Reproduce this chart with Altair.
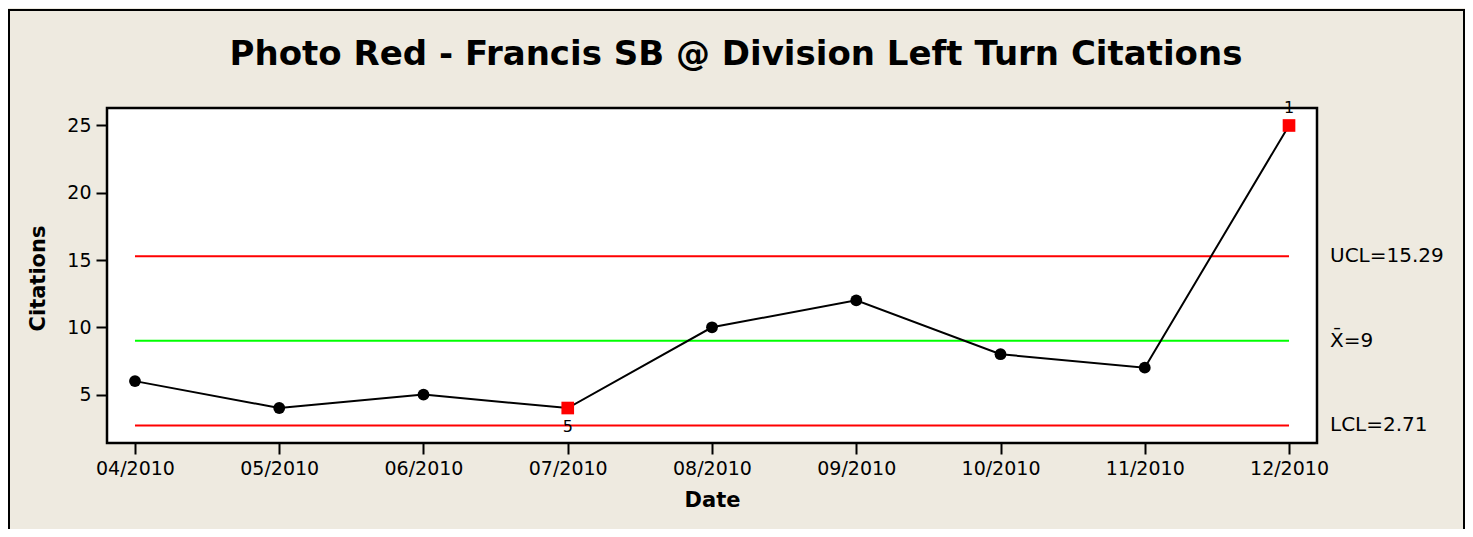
import altair as alt
import pandas as pd

dates = ["04/2010", "05/2010", "06/2010", "07/2010", "08/2010",
         "09/2010", "10/2010", "11/2010", "12/2010"]
citations = [6, 4, 5, 4, 10, 12, 8, 7, 25]
flag_labels = ["", "", "", "5", "", "", "", "", "1"]

ctrl_names = ["UCL", "Mean", "LCL"]
ctrl_values = [15.29, 9.0, 2.71]
ctrl_text = ["UCL=15.29", "X\u0304=9", "LCL=2.71"]
ctrl_colors = ["#FF0000", "#00FF00", "#FF0000"]

title_text = "Photo Red - Francis SB @ Division Left Turn Citations"

FONT = "DejaVu Sans"
BG = "#EEEAE0"
W, H = 1210, 335

df = pd.DataFrame({"date": dates, "citations": citations, "flag": flag_labels})
df["flagged"] = df["flag"] != ""
ctrl = pd.DataFrame({"name": ctrl_names, "value": ctrl_values,
                     "text": ctrl_text, "color": ctrl_colors,
                     "start": dates[0], "end": dates[-1]})

yscale = alt.Scale(domain=[1.4, 26.3], nice=False, zero=False)
xscale = alt.Scale(type="point", padding=0.194)

frame = alt.Chart(pd.DataFrame({"a": [0]})).mark_rect(
    fillOpacity=0, stroke="black", strokeWidth=2
).encode(x=alt.value(-98), x2=alt.value(1357), y=alt.value(-98), y2=alt.value(440))

title = alt.Chart(pd.DataFrame({"t": [title_text]})).mark_text(
    font=FONT, fontSize=34, fontWeight="bold", color="black",
    align="center", baseline="middle"
).encode(x=alt.value(629), y=alt.value(-53), text="t:N")

rules = alt.Chart(ctrl).mark_rule(strokeWidth=2).encode(
    x=alt.X("start:N", sort=dates, scale=xscale),
    x2="end:N",
    y=alt.Y("value:Q", scale=yscale),
    color=alt.Color("color:N", scale=None),
)

line = alt.Chart(df).mark_line(color="black", strokeWidth=2).encode(
    x=alt.X("date:N", sort=dates, scale=xscale,
            axis=alt.Axis(title="Date", labelAngle=0, labelAlign="center",
                          labelBaseline="top", titleY=57,
                          titleBaseline="middle")),
    y=alt.Y("citations:Q", scale=yscale,
            axis=alt.Axis(title="Citations", values=[5, 10, 15, 20, 25],
                          titleX=-69, titleY=170, titleAngle=-90,
                          titleAlign="center", titleBaseline="middle")),
)

dots = alt.Chart(df).transform_filter("!datum.flagged").mark_point(
    filled=True, shape="circle", size=140, color="black", opacity=1
).encode(x=alt.X("date:N", sort=dates), y=alt.Y("citations:Q", scale=yscale))

squares = alt.Chart(df).transform_filter("datum.flagged").mark_point(
    filled=True, shape="square", size=160, color="#FF0000", opacity=1
).encode(x=alt.X("date:N", sort=dates), y=alt.Y("citations:Q", scale=yscale))

flag5 = alt.Chart(df).transform_filter("datum.flag == '5'").mark_text(
    font=FONT, fontSize=16, color="black", dy=19, baseline="middle"
).encode(x=alt.X("date:N", sort=dates), y=alt.Y("citations:Q", scale=yscale), text="flag:N")

flag1 = alt.Chart(df).transform_filter("datum.flag == '1'").mark_text(
    font=FONT, fontSize=16, color="black", dy=-17, baseline="middle"
).encode(x=alt.X("date:N", sort=dates), y=alt.Y("citations:Q", scale=yscale), text="flag:N")

ctrl_lbl = alt.Chart(ctrl).mark_text(
    font=FONT, fontSize=20, color="black", align="left", baseline="middle"
).encode(x=alt.value(W + 13), y=alt.Y("value:Q", scale=yscale), text="text:N")

chart = alt.layer(frame, title, rules, line, dots, squares, flag5, flag1, ctrl_lbl).properties(
    width=W, height=H,
    autosize=alt.AutoSizeParams(type="none"),
    padding={"left": 99, "top": 100, "right": 148, "bottom": 86},
    background=BG,
).configure_view(
    fill="white", stroke="black", strokeWidth=2.5
).configure_axis(
    domain=False, grid=False, tickColor="black", tickWidth=2, tickSize=11,
    labelFont=FONT, labelFontSize=19, labelColor="black", labelPadding=5,
    titleFont=FONT, titleFontSize=21, titleFontWeight="bold", titleColor="black",
)

chart.save("out.html", embed_options={"renderer": "svg", "actions": False})
